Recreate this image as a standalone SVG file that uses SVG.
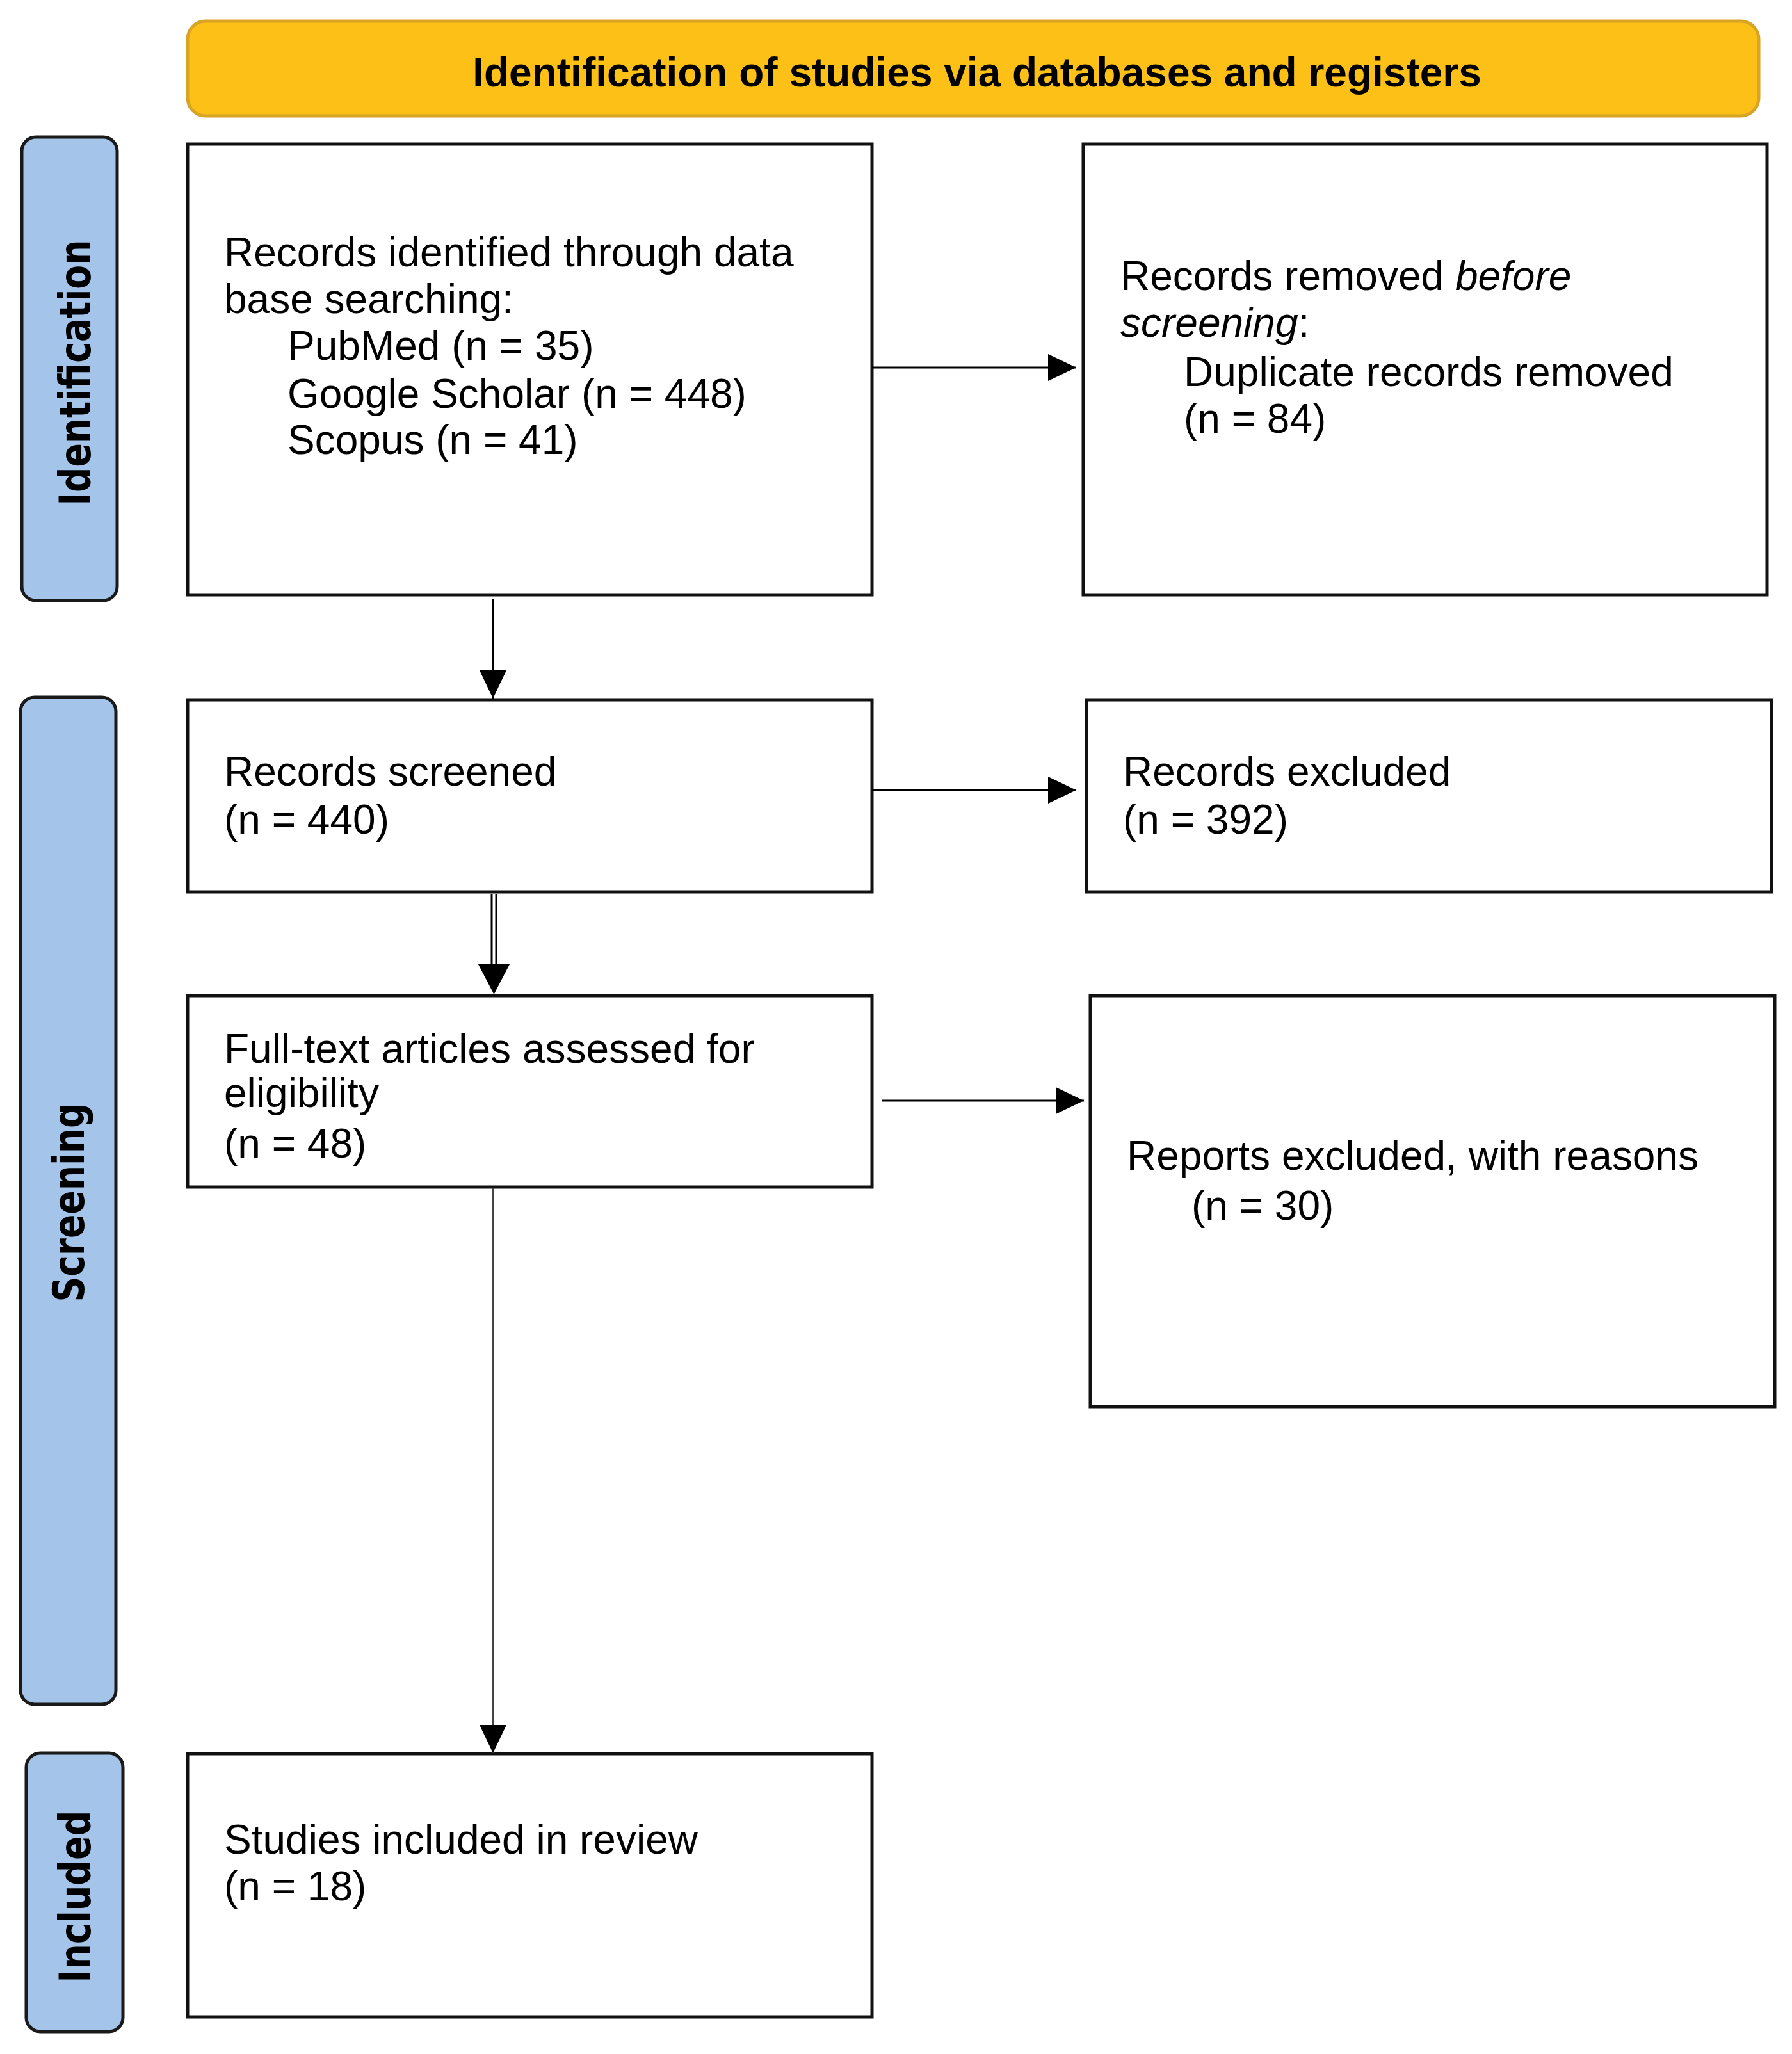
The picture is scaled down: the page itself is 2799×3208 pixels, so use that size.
<svg xmlns="http://www.w3.org/2000/svg" width="2799" height="3208" viewBox="0 0 2799 3208">
<style>
.box{fill:#fff;stroke:#111;stroke-width:5}
.side{fill:#A4C4E9;stroke:#1a1a1a;stroke-width:5}
.t{font-family:"Liberation Sans",Arial,sans-serif;font-size:64px;fill:#000}
.lab{font-family:"DejaVu Sans","Liberation Sans",sans-serif;font-size:68px;font-weight:bold;fill:#000}
.con{stroke:#000;stroke-width:3;fill:none}
</style>
<defs>
<marker id="ah" viewBox="0 0 44 42" refX="44" refY="21" markerWidth="44" markerHeight="42" markerUnits="userSpaceOnUse" orient="auto">
<path d="M0,0 L44,21 L0,42 z" fill="#000"/>
</marker>
</defs>
<rect width="2799" height="3208" fill="#fff"/>

<g id="banner">
<rect x="293" y="33" width="2454" height="148" rx="28" fill="#FCC016" stroke="#D9A425" stroke-width="5"/>
<text x="1526" y="135" text-anchor="middle" style="font-family:'Liberation Sans',Arial,sans-serif;font-size:64px;font-weight:bold">Identification of studies via databases and registers</text>
</g>

<g id="phase-identification">
<rect class="side" x="34" y="214" width="149" height="724" rx="22"/>
<text class="lab" x="141" y="582" text-anchor="middle" transform="rotate(-90 141 582)" textLength="415" lengthAdjust="spacingAndGlyphs">Identification</text>
</g>
<g id="phase-screening">
<rect class="side" x="32" y="1089" width="149" height="1573" rx="22"/>
<text class="lab" x="131" y="1878" text-anchor="middle" transform="rotate(-90 131 1878)" textLength="311" lengthAdjust="spacingAndGlyphs">Screening</text>
</g>
<g id="phase-included">
<rect class="side" x="41" y="2738" width="151" height="435" rx="22"/>
<text class="lab" x="141" y="2962" text-anchor="middle" transform="rotate(-90 141 2962)" textLength="269" lengthAdjust="spacingAndGlyphs">Included</text>
</g>

<g id="records-identified">
<rect class="box" x="293" y="225" width="1069" height="704"/>
<text class="t" x="350" y="416">Records identified through data</text>
<text class="t" x="350" y="489">base searching:</text>
<text class="t" x="449" y="562">PubMed (n = 35)</text>
<text class="t" x="449" y="637">Google Scholar (n = 448)</text>
<text class="t" x="449" y="709">Scopus (n = 41)</text>
</g>

<g id="records-removed">
<rect class="box" x="1692" y="225" width="1068" height="704"/>
<text class="t" x="1750" y="453">Records removed <tspan font-style="italic">before</tspan></text>
<text class="t" x="1750" y="526"><tspan font-style="italic">screening</tspan>:</text>
<text class="t" x="1849" y="603">Duplicate records removed</text>
<text class="t" x="1849" y="676">(n = 84)</text>
</g>

<g id="records-screened">
<rect class="box" x="293" y="1093" width="1069" height="300"/>
<text class="t" x="350" y="1227">Records screened</text>
<text class="t" x="350" y="1302">(n = 440)</text>
</g>

<g id="records-excluded">
<rect class="box" x="1697" y="1093" width="1070" height="300"/>
<text class="t" x="1754" y="1227">Records excluded</text>
<text class="t" x="1754" y="1302">(n = 392)</text>
</g>

<g id="full-text">
<rect class="box" x="293" y="1555" width="1069" height="299"/>
<text class="t" x="350" y="1660">Full-text articles assessed for</text>
<text class="t" x="350" y="1729">eligibility</text>
<text class="t" x="350" y="1808">(n = 48)</text>
</g>

<g id="reports-excluded">
<rect class="box" x="1703" y="1555" width="1069" height="642"/>
<text class="t" x="1760" y="1827">Reports excluded, with reasons</text>
<text class="t" x="1861" y="1905">(n = 30)</text>
</g>

<g id="studies-included">
<rect class="box" x="293" y="2739" width="1069" height="411"/>
<text class="t" x="350" y="2895">Studies included in review</text>
<text class="t" x="350" y="2968">(n = 18)</text>
</g>

<g id="connectors">
<line class="con" x1="1362" y1="574" x2="1681" y2="574" marker-end="url(#ah)"/>
<line class="con" x1="770" y1="936" x2="770" y2="1091" marker-end="url(#ah)"/>
<line class="con" x1="1362" y1="1234" x2="1681" y2="1234" marker-end="url(#ah)"/>
<line class="con" x1="768" y1="1396" x2="768" y2="1510"/>
<line class="con" x1="775" y1="1396" x2="775" y2="1510"/>
<path d="M747,1506 L796,1506 L771.5,1553 z" fill="#000"/>
<line class="con" x1="1377" y1="1719" x2="1693" y2="1719" marker-end="url(#ah)"/>
<line x1="770" y1="1856" x2="770" y2="2738" stroke="#444" stroke-width="2.5" marker-end="url(#ah)"/>
</g>
</svg>
